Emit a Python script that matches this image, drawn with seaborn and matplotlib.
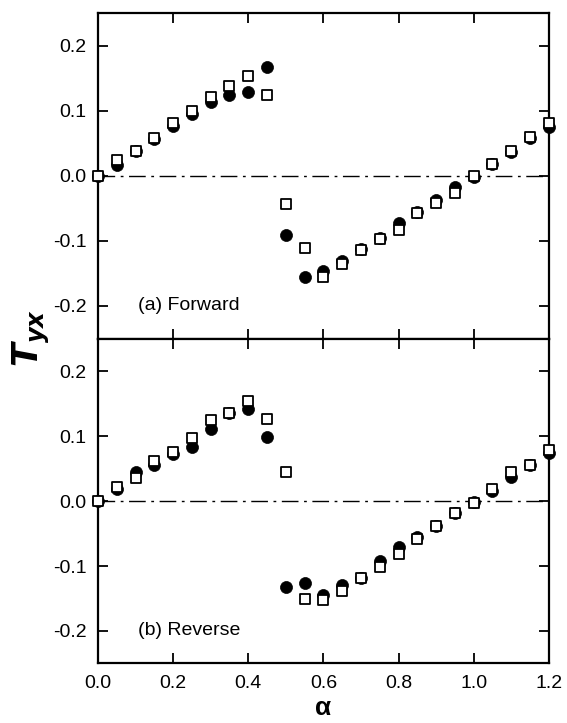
import numpy as np
import pandas as pd
import matplotlib
matplotlib.use("Agg")
import matplotlib.pyplot as plt
import seaborn as sns

# alpha values (0.0 .. 1.2 step 0.05)
alpha = [0.0, 0.05, 0.10, 0.15, 0.20, 0.25, 0.30, 0.35, 0.40, 0.45, 0.50, 0.55,
         0.60, 0.65, 0.70, 0.75, 0.80, 0.85, 0.90, 0.95, 1.00, 1.05, 1.10, 1.15, 1.20]

# (a) Forward
fwd_filled = [0.0, 0.016, 0.038, 0.057, 0.077, 0.095, 0.114, 0.125, 0.129, 0.167, -0.091, -0.155,
              -0.146, -0.131, -0.113, -0.095, -0.073, -0.055, -0.037, -0.017, -0.002, 0.019, 0.037, 0.059, 0.075]
fwd_open = [0.0, 0.024, 0.038, 0.058, 0.082, 0.100, 0.122, 0.138, 0.154, 0.124, -0.043, -0.111,
            -0.155, -0.136, -0.114, -0.097, -0.083, -0.057, -0.041, -0.026, 0.000, 0.019, 0.038, 0.060, 0.081]

# (b) Reverse
rev_filled = [0.0, 0.019, 0.045, 0.056, 0.073, 0.083, 0.111, 0.135, 0.141, 0.098, -0.132, -0.126,
              -0.145, -0.129, -0.118, -0.093, -0.070, -0.056, -0.038, -0.018, -0.001, 0.016, 0.037, 0.056, 0.074]
rev_open = [0.0, 0.021, 0.036, 0.062, 0.075, 0.097, 0.125, 0.136, 0.154, 0.126, 0.045, -0.151,
            -0.152, -0.138, -0.118, -0.101, -0.082, -0.059, -0.038, -0.018, -0.003, 0.019, 0.045, 0.056, 0.079]

panels = [("(a) Forward", fwd_filled, fwd_open), ("(b) Reverse", rev_filled, rev_open)]

sns.set_theme(style="ticks")
plt.rcParams["font.family"] = ["Liberation Sans", "DejaVu Sans"]
plt.rcParams["axes.unicode_minus"] = False
plt.rcParams["text.color"] = "black"

fig = plt.figure(figsize=(5.67, 7.23), dpi=100)
left, right = 0.1728, 0.968
bottom, mid, top = 0.0823, 0.5318, 0.9816
ax_top = fig.add_axes([left, mid, right - left, top - mid])
ax_bot = fig.add_axes([left, bottom, right - left, mid - bottom], sharex=ax_top)

for ax, (label, filled, opn) in zip([ax_top, ax_bot], panels):
    df = pd.DataFrame({"alpha": alpha, "filled": filled, "open": opn})
    ax.axhline(0, color="black", lw=1.0, dashes=(12, 4, 2, 4), zorder=1)
    sns.scatterplot(data=df, x="alpha", y="filled", ax=ax, marker="o", s=75,
                    color="black", edgecolor="black", linewidth=0.5, zorder=3, clip_on=False)
    sns.scatterplot(data=df, x="alpha", y="open", ax=ax, marker="s", s=50,
                    facecolor="white", edgecolor="black", linewidth=1.3, zorder=4, clip_on=False)
    ax.set_xlim(0, 1.2)
    ax.set_ylim(-0.25, 0.25)
    ax.set_yticks([-0.2, -0.1, 0.0, 0.1, 0.2])
    ax.set_yticklabels(["-0.2", "-0.1", "0.0", "0.1", "0.2"])
    ax.set_xticks([0.0, 0.2, 0.4, 0.6, 0.8, 1.0, 1.2])
    ax.tick_params(direction="in", length=7, width=1.3, top=True, right=True,
                   labelsize=14, colors="black", pad=8)
    for sp in ax.spines.values():
        sp.set_linewidth(1.6)
        sp.set_color("black")
    ax.set_xlabel("")
    ax.set_ylabel("")
    ax.text(0.106, -0.2, label, fontsize=14, ha="left", va="center", color="black")

ax_top.tick_params(labelbottom=False)
ax_bot.set_xticklabels(["0.0", "0.2", "0.4", "0.6", "0.8", "1.0", "1.2"])

fig.text(0.055, 1 - 338 / 723, r"$\boldsymbol{T}_{\boldsymbol{yx}}$", fontsize=25,
         ha="center", va="center", rotation=90, fontweight="bold", style="italic", color="black")
fig.text((left + right) / 2, 1 - 708 / 723, "α", fontsize=19, fontweight="bold",
         ha="center", va="center", color="black")

fig.savefig("out.png", dpi=100)
